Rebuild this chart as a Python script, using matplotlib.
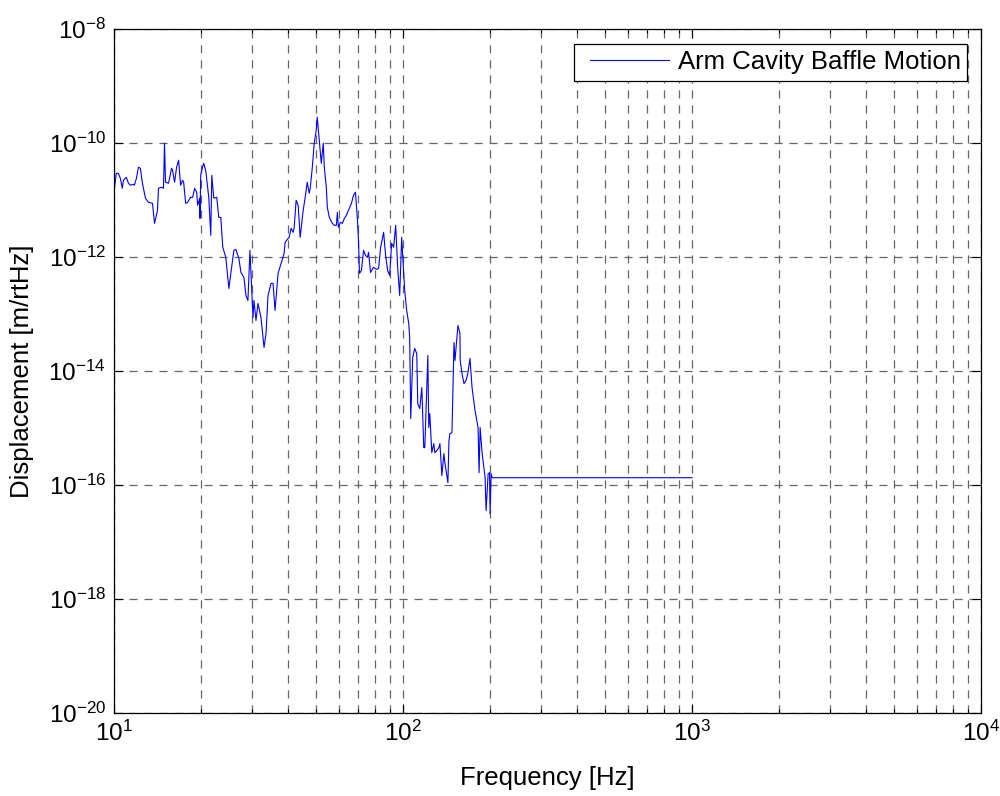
import matplotlib
matplotlib.use('Agg')
import matplotlib.pyplot as plt
from matplotlib.ticker import LogLocator, NullLocator, FixedLocator
from matplotlib.legend_handler import HandlerLine2D

plt.rcParams['font.family'] = ['Liberation Sans', 'DejaVu Sans']
plt.rcParams['mathtext.fontset'] = 'custom'
plt.rcParams['mathtext.rm'] = 'Liberation Sans'
plt.rcParams['mathtext.it'] = 'Liberation Sans:italic'
plt.rcParams['mathtext.default'] = 'regular'
plt.rcParams['axes.unicode_minus'] = False

# baffle displacement spectrum (Hz, m/rtHz)
freq_hz = [
    10.0, 10.02, 10.16, 10.33, 10.49, 10.66, 10.75, 11.01, 11.19, 11.37,
    11.64, 11.74, 11.93, 12.12, 12.31, 12.51, 12.82, 13.13, 13.56, 13.78,
    14.11, 14.22, 14.57, 14.80, 14.92, 15.04, 15.41, 15.78, 15.91, 16.17,
    16.43, 16.70, 16.96, 17.24, 17.38, 17.66, 17.94, 18.38, 18.67, 18.97,
    19.28, 19.43, 19.75, 19.80, 19.91, 20.07, 20.39, 20.72, 21.06, 21.23,
    21.57, 21.75, 22.10, 22.63, 22.99, 23.37, 23.74, 24.32, 24.92, 25.32,
    25.93, 26.35, 26.99, 27.43, 28.10, 28.55, 29.01, 29.48, 30.20, 30.44,
    30.93, 31.43, 32.19, 32.98, 33.51, 34.05, 34.88, 35.44, 36.01, 36.89,
    37.78, 38.70, 39.01, 39.96, 40.28, 40.93, 41.59, 41.92, 42.60, 43.29,
    43.99, 45.06, 45.79, 46.53, 47.28, 47.66, 48.43, 49.21, 50.01, 50.41,
    51.22, 52.05, 52.89, 53.32, 54.19, 54.62, 55.50, 56.85, 57.77, 58.70,
    59.17, 59.65, 60.61, 61.59, 62.59, 63.60, 64.63, 66.20, 67.27, 68.36,
    69.46, 70.02, 70.58, 71.72, 72.88, 74.06, 75.25, 75.86, 77.09, 78.96,
    80.88, 82.19, 83.52, 85.54, 86.92, 88.33, 89.76, 91.20, 92.68, 94.17,
    95.69, 97.24, 98.80, 100.4, 101.2, 102.8, 104.5, 105.3, 106.2, 107.9,
    109.6, 111.4, 112.3, 114.1, 116.0, 117.8, 118.8, 121.7, 122.6, 123.6,
    125.6, 127.6, 128.7, 130.8, 132.9, 134.0, 136.1, 138.3, 139.4, 142.8,
    144.0, 145.1, 147.5, 149.9, 151.1, 154.7, 157.2, 157.5, 159.8, 162.3,
    165.0, 167.6, 170.3, 173.1, 177.3, 181.6, 183.1, 184.6, 187.5, 192.1,
    193.6, 196.8, 199.0, 199.9, 201.5, 203.2, 1000.0,
]
disp = [
    2.70e-11, 1.66e-11, 2.93e-11, 2.93e-11, 2.40e-11, 1.60e-11, 2.21e-11, 2.49e-11, 1.96e-11, 1.81e-11,
    1.88e-11, 1.81e-11, 2.40e-11, 3.74e-11, 3.59e-11, 1.96e-11, 1.07e-11, 9.08e-12, 8.71e-12, 3.88e-12,
    6.56e-12, 1.60e-11, 1.66e-11, 1.60e-11, 9.90e-11, 2.04e-11, 1.96e-11, 3.59e-11, 3.31e-11, 2.04e-11,
    3.74e-11, 4.97e-11, 1.81e-11, 2.21e-11, 2.04e-11, 8.71e-12, 9.08e-12, 1.11e-11, 1.11e-11, 1.60e-11,
    1.36e-11, 8.04e-12, 1.07e-11, 4.75e-12, 2.70e-11, 3.31e-11, 4.40e-11, 3.31e-11, 1.60e-11, 1.11e-11,
    2.39e-12, 2.70e-11, 1.07e-11, 1.11e-11, 4.94e-12, 4.94e-12, 1.47e-12, 9.80e-13, 2.79e-13, 5.13e-13,
    1.30e-12, 1.35e-12, 9.41e-13, 5.34e-13, 4.36e-13, 2.10e-13, 1.72e-13, 1.30e-12, 8.65e-14, 1.72e-13,
    7.66e-14, 1.52e-13, 8.65e-14, 2.57e-14, 4.52e-14, 2.10e-13, 3.42e-13, 3.42e-13, 1.15e-13, 5.13e-13,
    7.69e-13, 1.15e-12, 1.80e-12, 2.11e-12, 2.20e-12, 3.17e-12, 2.70e-12, 3.17e-12, 9.84e-12, 8.04e-12,
    2.20e-12, 6.56e-12, 1.11e-11, 2.04e-11, 1.31e-11, 1.60e-11, 3.59e-11, 9.90e-11, 1.67e-10, 2.83e-10,
    1.12e-10, 4.40e-11, 9.90e-11, 3.74e-11, 1.66e-11, 7.41e-12, 4.94e-12, 3.88e-12, 3.58e-12, 3.58e-12,
    6.05e-12, 3.30e-12, 4.04e-12, 3.88e-12, 4.75e-12, 5.36e-12, 6.56e-12, 8.71e-12, 1.20e-11, 1.36e-11,
    4.38e-12, 1.95e-12, 5.13e-13, 5.79e-13, 1.30e-12, 1.06e-12, 9.80e-13, 1.20e-12, 5.34e-13, 6.54e-13,
    6.03e-13, 6.28e-13, 1.47e-12, 2.70e-12, 1.06e-12, 5.79e-13, 4.73e-13, 1.73e-12, 1.47e-12, 3.58e-12,
    6.54e-13, 2.10e-13, 2.20e-12, 5.13e-13, 2.58e-13, 1.15e-13, 6.78e-14, 3.85e-14, 1.45e-15, 1.71e-14,
    2.47e-14, 2.01e-14, 2.66e-15, 2.17e-15, 5.09e-15, 4.49e-16, 4.49e-16, 1.86e-14, 1.01e-15, 1.78e-15,
    3.66e-16, 5.28e-16, 3.66e-16, 3.97e-16, 4.49e-16, 5.28e-16, 1.45e-16, 3.52e-16, 2.44e-16, 1.09e-16,
    5.96e-16, 7.91e-16, 8.24e-16, 3.14e-14, 1.52e-14, 6.25e-14, 4.52e-14, 1.52e-14, 8.96e-15, 5.98e-15,
    6.75e-15, 9.33e-15, 1.65e-14, 5.09e-15, 2.00e-15, 1.01e-15, 1.63e-16, 1.01e-15, 3.66e-16, 1.33e-16,
    3.51e-17, 1.57e-16, 1.63e-16, 3.10e-17, 1.57e-16, 1.33e-16, 1.33e-16,
]

y_ticks = [1e-20, 1e-18, 1e-16, 1e-14, 1e-12, 1e-10, 1e-8]

fig = plt.figure(figsize=(10, 7.96), dpi=100)
ax = fig.add_axes([0.1143, 0.1047, 0.8667, 0.8589])

line, = ax.loglog(freq_hz, disp, color='#0000ff', lw=0.8, label='Arm Cavity Baffle Motion')

ax.set_xlim(10, 1e4)
ax.set_ylim(1e-20, 1e-8)
ax.xaxis.set_major_locator(LogLocator(base=10, numticks=10))
ax.xaxis.set_minor_locator(LogLocator(base=10, subs=range(2, 10), numticks=20))
ax.yaxis.set_major_locator(FixedLocator(y_ticks))
ax.yaxis.set_minor_locator(NullLocator())

grid_style = dict(color='0.4', lw=0.9, linestyle=(0, (6.5, 5.5)))
ax.grid(True, which='major', axis='both', **grid_style)
ax.grid(True, which='minor', axis='x', **grid_style)

ax.tick_params(which='both', direction='in', top=True, right=True,
               labelsize=17.5, width=0.8, pad=6)
ax.tick_params(which='major', length=6.5)
ax.tick_params(which='minor', length=3.2)
for s in ax.spines.values():
    s.set_linewidth(0.9)

ax.set_xlabel('Frequency [Hz]', fontsize=18.5)
ax.set_ylabel('Displacement [m/rtHz]', fontsize=18.5)
ax.xaxis.set_label_coords(0.5, -0.078)
ax.yaxis.set_label_coords(-0.093, 0.5)

leg = ax.legend(loc='upper right', bbox_to_anchor=(0.9838, 0.978), borderaxespad=0,
                fontsize=18.5, fancybox=False, framealpha=1, edgecolor='black',
                handlelength=3.44, handletextpad=0.35, borderpad=0.25,
                handler_map={line: HandlerLine2D(xpad=0.37)})
leg.get_frame().set_linewidth(0.9)

fig.savefig('out.png', dpi=100)
